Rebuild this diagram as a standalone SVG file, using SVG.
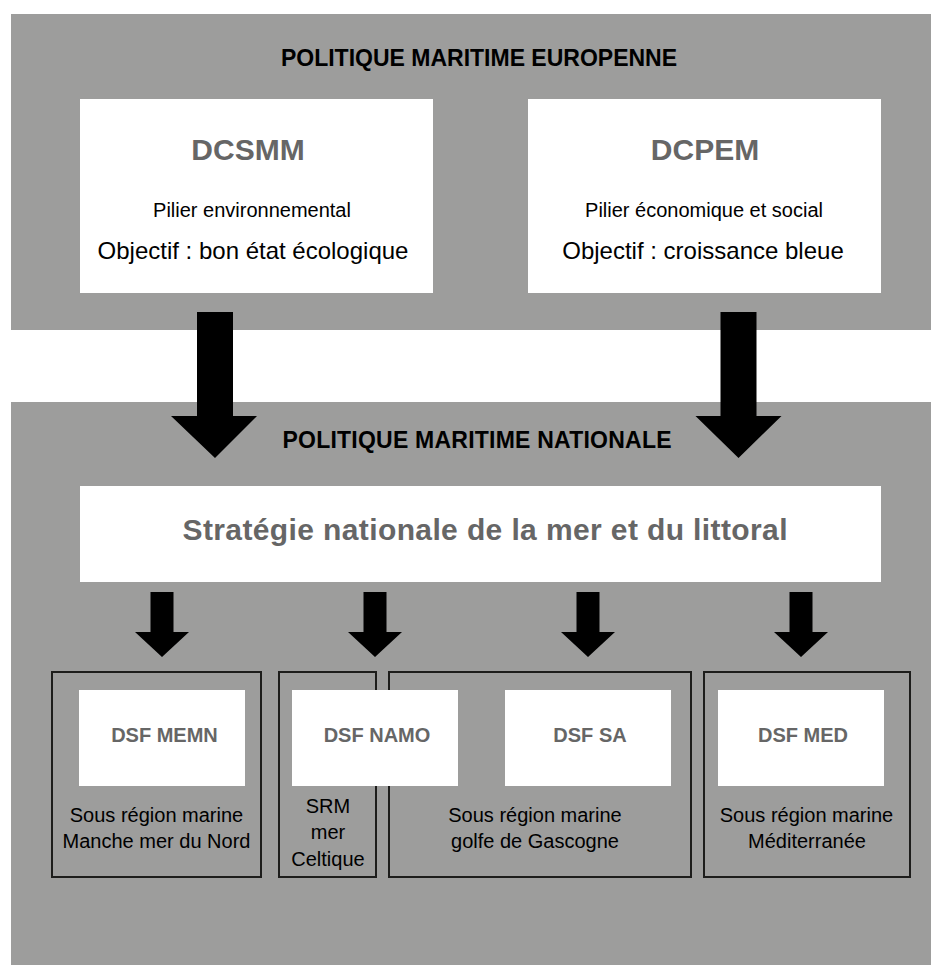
<svg xmlns="http://www.w3.org/2000/svg" width="931" height="965" viewBox="0 0 931 965">
<style>
  .panel { fill: #9d9d9c; }
  .white { fill: #ffffff; }
  .outline { fill: none; stroke: #1d1d1b; stroke-width: 2; }
  .title { font-family: "Liberation Sans", Arial, sans-serif; font-weight: bold; font-size: 23px; fill: #000; text-anchor: middle; }
  .big { font-family: "Liberation Sans", Arial, sans-serif; font-weight: bold; font-size: 30px; fill: #666666; text-anchor: middle; }
  .dsf { font-family: "Liberation Sans", Arial, sans-serif; font-weight: bold; font-size: 20px; fill: #666666; text-anchor: middle; }
  .sub { font-family: "Liberation Sans", Arial, sans-serif; font-size: 20px; fill: #000; text-anchor: middle; }
  .obj { font-family: "Liberation Sans", Arial, sans-serif; font-size: 24px; fill: #000; text-anchor: middle; }
  .arrow { fill: #000; }
</style>
<rect width="931" height="965" fill="#ffffff"/>

<g id="panel-europe">
  <rect class="panel" x="11" y="14" width="920" height="316"/>
  <text class="title" x="479" y="66">POLITIQUE MARITIME EUROPENNE</text>
</g>

<g id="panel-national">
  <rect class="panel" x="11" y="402" width="920" height="563"/>
  <text class="title" x="477" y="448" textLength="389">POLITIQUE MARITIME NATIONALE</text>
</g>

<g id="node-dcsmm">
  <rect class="white" x="80" y="99" width="353" height="194"/>
  <text class="big" x="248" y="160">DCSMM</text>
  <text class="sub" x="252" y="217">Pilier environnemental</text>
  <text class="obj" x="253" y="259">Objectif : bon état écologique</text>
</g>

<g id="node-dcpem">
  <rect class="white" x="528" y="99" width="353" height="194"/>
  <text class="big" x="705" y="160">DCPEM</text>
  <text class="sub" x="704" y="217">Pilier économique et social</text>
  <text class="obj" x="703" y="259">Objectif : croissance bleue</text>
</g>

<g id="node-strategie">
  <rect class="white" x="80" y="486" width="801" height="96"/>
  <text class="big" x="485" y="540" textLength="605">Stratégie nationale de la mer et du littoral</text>
</g>

<g id="node-memn">
  <rect class="outline" x="52" y="672" width="209" height="205"/>
  <rect class="white" x="79" y="690" width="166" height="96"/>
  <text class="dsf" x="164.5" y="742">DSF MEMN</text>
  <text class="sub" x="156.5" y="822">Sous région marine</text>
  <text class="sub" x="156.5" y="848">Manche mer du Nord</text>
</g>

<g id="node-celtique">
  <rect class="outline" x="279" y="672" width="97" height="205"/>
  <text class="sub" x="328" y="813">SRM</text>
  <text class="sub" x="328" y="839">mer</text>
  <text class="sub" x="328" y="866">Celtique</text>
</g>

<g id="node-gascogne">
  <rect class="outline" x="389" y="672" width="302" height="205"/>
  <text class="sub" x="535" y="822">Sous région marine</text>
  <text class="sub" x="535" y="848">golfe de Gascogne</text>
</g>

<g id="node-namo">
  <rect class="white" x="292" y="690" width="166" height="96"/>
  <text class="dsf" x="377" y="742">DSF NAMO</text>
</g>

<g id="node-sa">
  <rect class="white" x="505" y="690" width="166" height="96"/>
  <text class="dsf" x="590" y="742">DSF SA</text>
</g>

<g id="node-med">
  <rect class="outline" x="704" y="672" width="206" height="205"/>
  <rect class="white" x="718" y="690" width="166" height="96"/>
  <text class="dsf" x="803" y="742">DSF MED</text>
  <text class="sub" x="806.5" y="822">Sous région marine</text>
  <text class="sub" x="807" y="848">Méditerranée</text>
</g>

<g id="connectors">
  <polygon class="arrow" points="197,312 233,312 233,416 257,416 215,458 171,416 197,416"/>
  <polygon class="arrow" points="720.5,312 756.5,312 756.5,416 781.5,416 738.5,458 695.5,416 720.5,416"/>
  <polygon class="arrow" points="150.5,592 173.5,592 173.5,632 189,632 162,657 135,632 150.5,632"/>
  <polygon class="arrow" points="363.5,592 386.5,592 386.5,632 402,632 375,657 348,632 363.5,632"/>
  <polygon class="arrow" points="576.5,592 599.5,592 599.5,632 615,632 588,657 561,632 576.5,632"/>
  <polygon class="arrow" points="789.5,592 812.5,592 812.5,632 828,632 801,657 774,632 789.5,632"/>
</g>
</svg>
